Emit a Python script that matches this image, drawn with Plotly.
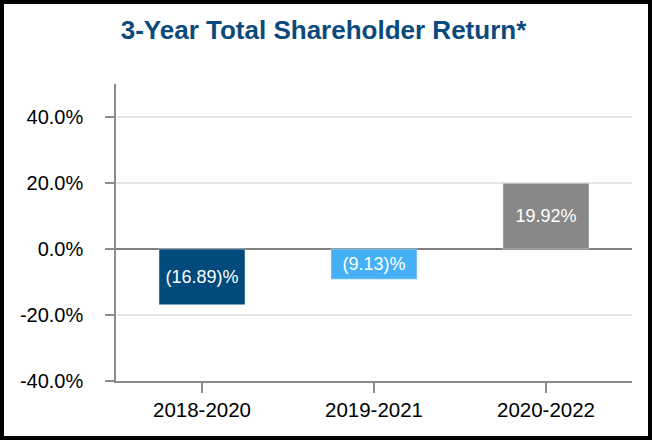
import plotly.graph_objects as go

categories = ["2018-2020", "2019-2021", "2020-2022"]
tsr_values = [-16.89, -9.13, 19.92]
bar_colors = ["#004a7c", "#45b0f5", "#888888"]
y_ticks = [-40, -20, 0, 20, 40]

def fmt(v):
    return f"({abs(v):.2f})%" if v < 0 else f"{v:.2f}%"

labels = [fmt(v) for v in tsr_values]
y_ticktext = [f"{v:.1f}%" for v in y_ticks]

W, H = 652, 440
ml, mr, mt, mb = 116, 20, 84, 59
pw, ph = W - ml - mr, H - mt - mb

fig = go.Figure(go.Bar(
    x=categories, y=tsr_values, marker_color=bar_colors, width=0.5,
    text=labels, textposition="inside", insidetextanchor="middle",
    textfont=dict(color="white", size=18, family="Liberation Sans, Arial"),
    hoverinfo="skip",
))

def px_x(p):
    return (p - ml) / pw

def px_y(p):
    return (H - mb - p) / ph

fig.update_layout(
    width=W, height=H,
    margin=dict(l=ml, r=mr, t=mt, b=mb),
    paper_bgcolor="white", plot_bgcolor="white",
    font=dict(family="Liberation Sans, Arial", color="black", size=19),
    title=dict(text="<b>3-Year Total Shareholder Return*</b>", x=323.5 / W, xref="container",
               xanchor="center", y=1 - 30 / H, yanchor="middle", yref="container",
               font=dict(size=26, color="#0b4a7d")),
    showlegend=False,
    xaxis=dict(showline=True, linecolor="#8c8c8c", linewidth=1.5, ticks="outside",
               ticklen=10, tickcolor="#8c8c8c", tickwidth=1.5, showgrid=False,
               tickfont=dict(size=20.5)),
    yaxis=dict(range=[-40, 50], tickvals=y_ticks, ticktext=y_ticktext,
               showline=True, linecolor="#8c8c8c", linewidth=1.5, ticks="outside",
               ticklen=9, tickcolor="#8c8c8c", tickwidth=1.5,
               ticklabelstandoff=18,
               showgrid=True, gridcolor="#e6e6e6", gridwidth=1.5,
               zeroline=True, zerolinecolor="#7f7f7f", zerolinewidth=2,
               tickfont=dict(size=20)),
    shapes=[dict(type="rect", xref="paper", yref="paper",
                 x0=px_x(2), x1=px_x(W - 2), y0=px_y(H - 2), y1=px_y(2),
                 line=dict(color="black", width=4), fillcolor="rgba(0,0,0,0)",
                 layer="above")],
)

fig.write_html("out.html", config={"displayModeBar": False},
               post_script="document.body.style.margin='0';document.body.style.overflow='hidden';")
